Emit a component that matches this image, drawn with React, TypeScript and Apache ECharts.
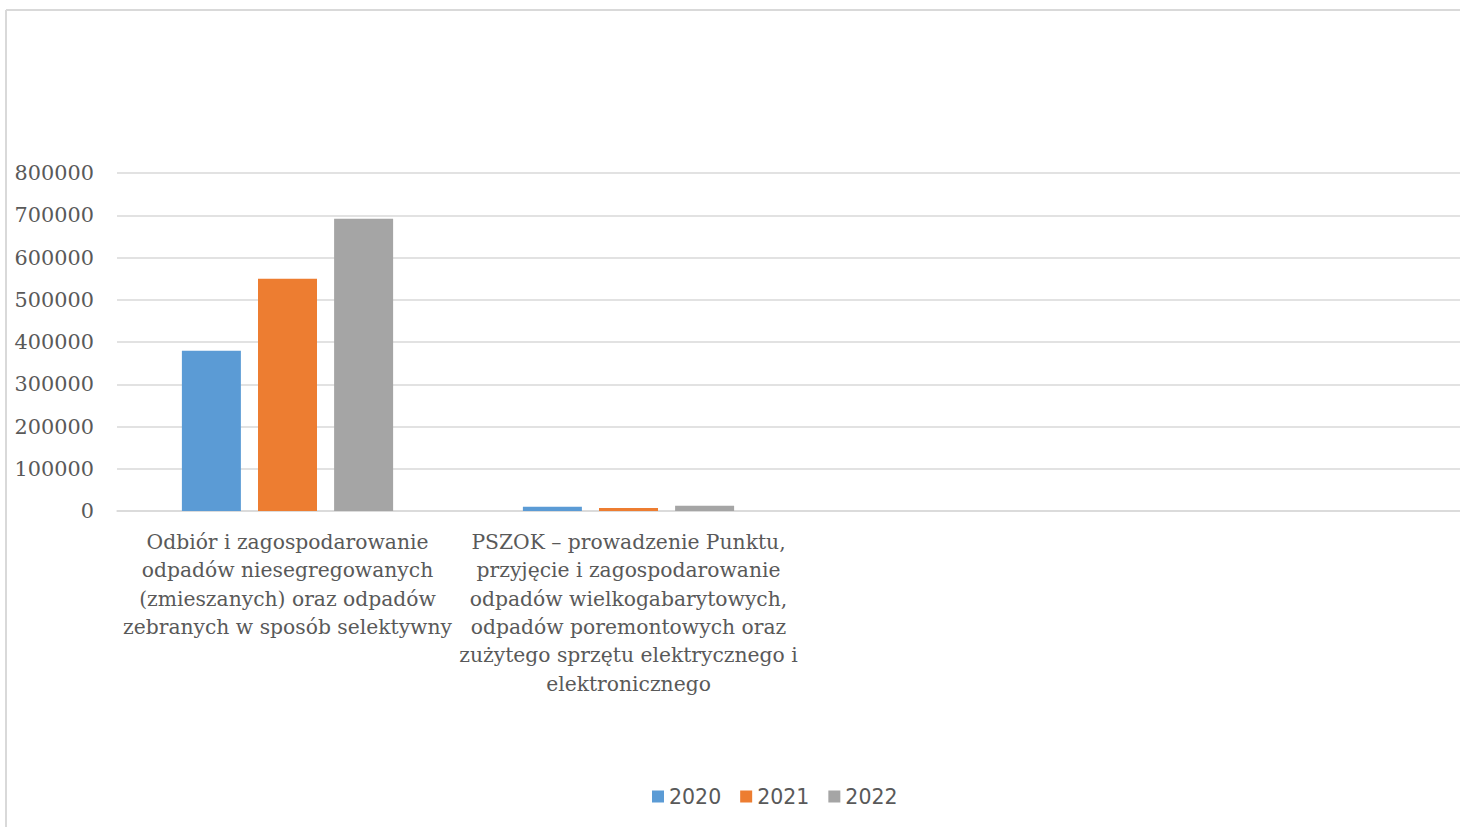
import React, { useEffect, useRef } from "react";
import * as echarts from "echarts";

const categories = [
  "Odbiór i zagospodarowanie\nodpadów niesegregowanych\n(zmieszanych) oraz odpadów\nzebranych w sposób selektywny",
  "PSZOK – prowadzenie Punktu,\nprzyjęcie i zagospodarowanie\nodpadów wielkogabarytowych,\nodpadów poremontowych oraz\nzużytego sprzętu elektrycznego i\nelektronicznego",
  "",
  "",
];
const seriesNames = ["2020", "2021", "2022"];
const values2020 = [379000, 10000, null, null];
const values2021 = [550000, 7000, null, null];
const values2022 = [692000, 12500, null, null];
const colors = ["#5b9bd5", "#ed7d31", "#a5a5a5"];

export default function App() {
  const ref = useRef<HTMLDivElement>(null);
  useEffect(() => {
    const chart = echarts.init(ref.current!, null, { renderer: "svg" });
    const data = [values2020, values2021, values2022];
    chart.setOption({
      animation: false,
      backgroundColor: "#ffffff",
      color: colors,
      grid: { left: 117, right: 0, top: 173, bottom: 316, containLabel: false },
      legend: {
        data: seriesNames,
        top: 781,
        left: 647,
        itemWidth: 12,
        itemHeight: 12,
        itemGap: 19,
        icon: "rect",
        textStyle: { fontFamily: "DejaVu Sans", fontSize: 20.5, color: "#595959" },
      },
      xAxis: {
        type: "category",
        data: categories,
        axisLine: { show: true, lineStyle: { color: "#d9d9d9", width: 1.5 } },
        axisTick: { show: false },
        axisLabel: {
          interval: 0,
          margin: 17,
          fontFamily: "DejaVu Serif",
          fontSize: 20.3,
          lineHeight: 28.3,
          color: "#595959",
          align: "center",
        },
      },
      yAxis: {
        type: "value",
        min: 0,
        max: 800000,
        interval: 100000,
        axisLine: { show: false },
        axisTick: { show: false },
        splitLine: { lineStyle: { color: "#d9d9d9", width: 1.5 } },
        axisLabel: {
          margin: 23,
          fontFamily: "DejaVu Serif",
          fontSize: 20.8,
          color: "#595959",
          formatter: (v: number) => String(v),
        },
      },
      graphic: [
        { type: "line", shape: { x1: 6, y1: 10, x2: 1481, y2: 10 }, style: { stroke: "#d9d9d9", lineWidth: 2 } },
        { type: "line", shape: { x1: 6, y1: 10, x2: 6, y2: 827 }, style: { stroke: "#d9d9d9", lineWidth: 2 } },
      ],
      series: seriesNames.map((name, i) => ({
        name,
        type: "bar",
        data: data[i],
        barWidth: 59,
        barGap: "29%",
        itemStyle: { color: colors[i] },
      })),
    });
    return () => chart.dispose();
  }, []);
  return (
    <div
      ref={ref}
      style={{ position: "fixed", left: 0, top: 0, width: 1481, height: 827, background: "#fff" }}
    />
  );
}
